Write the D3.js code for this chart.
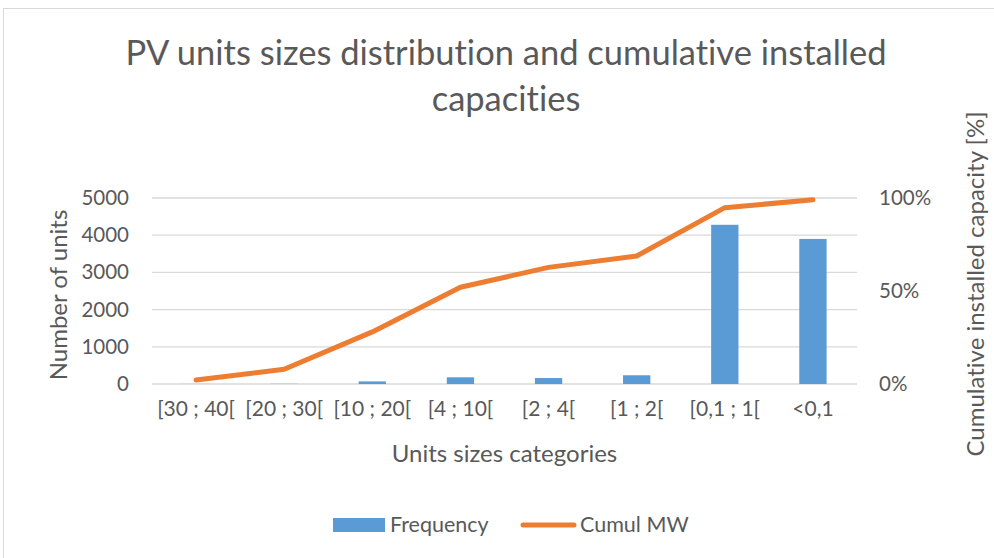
<!DOCTYPE html>
<html>
<head>
<meta charset="utf-8">
<script src="https://cdn.jsdelivr.net/npm/d3@7"></script>
<style>
  body { margin: 0; background: #fff; }
  svg { display: block; font-family: Lato, "Open Sans", sans-serif; font-variant-ligatures: none; }
</style>
</head>
<body>
<svg width="994" height="558"></svg>
<script>
// categories and series
const categories = ["[30 ; 40[", "[20 ; 30[", "[10 ; 20[", "[4 ; 10[", "[2 ; 4[", "[1 ; 2[", "[0,1 ; 1[", "<0,1"];
const frequency = [2, 5, 70, 180, 160, 235, 4280, 3900];
const cumulMW = [0.022, 0.079, 0.28, 0.52, 0.627, 0.688, 0.948, 0.99];
const leftTicks = [0, 1000, 2000, 3000, 4000, 5000];
const rightTicks = [0, 0.5, 1];

const textColor = "#595959";
const barColor = "#5b9bd5";
const lineColor = "#ed7d31";

const svg = d3.select("svg");
const area = { left: 152, right: 857, top: 198, bottom: 384 };

// frame
svg.append("rect")
  .attr("x", 3.5).attr("y", 8.5)
  .attr("width", 1100).attr("height", 600)
  .attr("fill", "none").attr("stroke", "#d9d9d9");

// scales
const scX = d3.scaleBand()
  .domain(categories)
  .range([area.left, area.right])
  .paddingInner(0.69).paddingOuter(0.345);
const scPos = d3.scaleBand()
  .domain(categories)
  .range([area.left, area.right]);
const scY = d3.scaleLinear().domain([0, 5000]).range([area.bottom, area.top]);
const scY2 = d3.scaleLinear().domain([0, 1]).range([area.bottom, area.top]);

// gridlines
svg.append("g")
  .selectAll("line")
  .data(leftTicks)
  .join("line")
  .attr("x1", area.left).attr("x2", area.right)
  .attr("y1", d => scY(d)).attr("y2", d => scY(d))
  .attr("stroke", "#d9d9d9").attr("stroke-width", 1.3);

// left axis
const axisL = svg.append("g")
  .attr("transform", `translate(${area.left - 23},0)`)
  .call(d3.axisLeft(scY).tickValues(leftTicks).tickFormat(d3.format("d")).tickSize(0).tickPadding(0));
axisL.select(".domain").remove();
axisL.selectAll("text")
  .attr("fill", textColor).style("font-size", "20.5px").style("font-family", "Lato");

// right axis
const axisR = svg.append("g")
  .attr("transform", `translate(${area.right + 22},0)`)
  .call(d3.axisRight(scY2).tickValues(rightTicks).tickFormat(d3.format(".0%")).tickSize(0).tickPadding(0));
axisR.select(".domain").remove();
axisR.selectAll("text")
  .attr("fill", textColor).style("font-size", "20.5px").style("font-family", "Lato");

// bottom category axis
const axisB = svg.append("g")
  .attr("transform", `translate(0,${area.bottom + 17})`)
  .call(d3.axisBottom(scPos).tickSize(0).tickPadding(0));
axisB.select(".domain").remove();
axisB.selectAll("text")
  .attr("fill", textColor).style("font-size", "21px").style("font-family", "Lato")
  .attr("dy", "0.71em");

// bars
svg.append("g")
  .selectAll("rect")
  .data(frequency)
  .join("rect")
  .attr("x", (d, i) => scX(categories[i]))
  .attr("y", d => scY(d))
  .attr("width", scX.bandwidth())
  .attr("height", d => scY(0) - scY(d))
  .attr("fill", barColor);

// line
const line = d3.line()
  .x((d, i) => scPos(categories[i]) + scPos.bandwidth() / 2)
  .y(d => scY2(d));
svg.append("path")
  .datum(cumulMW)
  .attr("d", line)
  .attr("fill", "none")
  .attr("stroke", lineColor)
  .attr("stroke-width", 5)
  .attr("stroke-linecap", "round")
  .attr("stroke-linejoin", "round");

// title
const title = svg.append("text")
  .attr("text-anchor", "middle")
  .attr("fill", textColor)
  .style("font-size", "34.5px");
title.append("tspan").attr("x", 506).attr("y", 65).text("PV units sizes distribution and cumulative installed");
title.append("tspan").attr("x", 506).attr("y", 111).text("capacities");

// axis titles
svg.append("text")
  .attr("x", (area.left + area.right) / 2).attr("y", 462)
  .attr("text-anchor", "middle").attr("fill", textColor)
  .style("font-size", "24px")
  .text("Units sizes categories");

svg.append("text")
  .attr("transform", "translate(67,295) rotate(-90)")
  .attr("text-anchor", "middle").attr("fill", textColor)
  .style("font-size", "24px")
  .text("Number of units");

svg.append("text")
  .attr("transform", "translate(984,284) rotate(-90)")
  .attr("text-anchor", "middle").attr("fill", textColor)
  .style("font-size", "24px")
  .text("Cumulative installed capacity [%]");

// legend
const legend = svg.append("g");
legend.append("rect")
  .attr("x", 333).attr("y", 518).attr("width", 52).attr("height", 14)
  .attr("fill", barColor);
legend.append("text")
  .attr("x", 390).attr("y", 532).attr("fill", textColor)
  .style("font-size", "21.5px").text("Frequency");
legend.append("line")
  .attr("x1", 523).attr("x2", 574).attr("y1", 525).attr("y2", 525)
  .attr("stroke", lineColor).attr("stroke-width", 5).attr("stroke-linecap", "round");
legend.append("text")
  .attr("x", 580).attr("y", 532).attr("fill", textColor)
  .style("font-size", "21.5px").text("Cumul MW");
</script>
</body>
</html>
